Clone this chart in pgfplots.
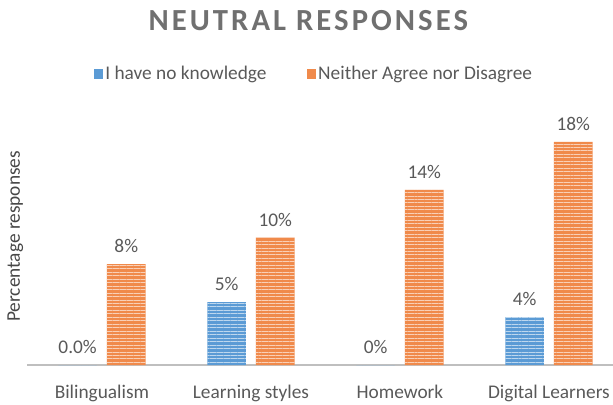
\documentclass[border=0pt]{standalone}
\usepackage{fontspec}
\setmainfont{Carlito}
\usepackage{pgfplots}
\pgfplotsset{compat=1.18}
\usetikzlibrary{patterns.meta}
\definecolor{cblue}{HTML}{5B9BD5}
\definecolor{corange}{HTML}{F08A4B}
\definecolor{txt}{HTML}{595959}
\definecolor{ttl}{HTML}{707070}
\definecolor{axl}{HTML}{BFBFBF}
\begin{document}
\begin{tikzpicture}
\begin{axis}[
  scale only axis, width=439.5pt, height=189pt,
  ymin=0, ymax=20, xmin=-0.503, xmax=3.43,
  axis x line*=bottom, axis y line*=left,
  x axis line style={axl, line width=1.2pt, -},
  y axis line style={draw=none},
  ytick=\empty,
  xtick={0,1,2,3},
  xticklabels={Bilingualism, Learning styles, Homework, Digital Learners},
  major tick length=0pt,
  xticklabel style={font=\fontsize{14.5}{16}\selectfont, text=txt, anchor=base, yshift=-25pt},
  ybar=7.5pt, bar width=29pt,
  point meta=explicit symbolic,
  nodes near coords,
  every node near coord/.append style={font=\fontsize{14.5}{16}\selectfont, text=txt, anchor=center, yshift=13.5pt},
  ylabel={Percentage responses},
  ylabel style={at={(axis description cs:-0.02,0.51)}, anchor=center, font=\fontsize{14.5}{16}\selectfont, text=txt!80!black},
  title={NEUTRAL RESPONSES},
  title style={at={(0.48,1)}, anchor=center, yshift=63pt, font=\fontsize{23}{26}\selectfont\bfseries\addfontfeatures{LetterSpace=10}, text=ttl},
  legend style={at={(0.49,1)}, anchor=center, yshift=29.25pt, draw=none, fill=none,
    font=\fontsize{14.5}{16}\selectfont, text=txt,
    /tikz/every even column/.append style={column sep=28pt}},
  legend columns=2,
]
\addplot[draw=none, fill=cblue, postaction={pattern={Lines[angle=0,distance=2.6pt,line width=0.7pt]}, pattern color=white!60!cblue},
  legend image code/.code={\pgfpathrectangle{\pgfpoint{0pt}{-3.4pt}}{\pgfpoint{6.75pt}{6.8pt}}\pgfsetfillcolor{cblue}\pgfusepath{fill}}]
  coordinates {(0,0) [0.0\%] (1,5.0) [5\%] (2,0) [0\%] (3,3.8) [4\%]};
\addlegendentry{I have no knowledge}
\addplot[draw=none, fill=corange, postaction={pattern={Lines[angle=0,distance=2.6pt,line width=0.7pt]}, pattern color=white!60!corange},
  legend image code/.code={\pgfpathrectangle{\pgfpoint{0pt}{-3.4pt}}{\pgfpoint{6.75pt}{6.8pt}}\pgfsetfillcolor{corange}\pgfusepath{fill}}]
  coordinates {(0,8.0) [8\%] (1,10.1) [10\%] (2,13.9) [14\%] (3,17.7) [18\%]};
\addlegendentry{Neither Agree nor Disagree}
\end{axis}
\pgfresetboundingbox
\useasboundingbox (-20.25pt,-29.25pt) rectangle (439.5pt,273.75pt);
\end{tikzpicture}
\end{document}
